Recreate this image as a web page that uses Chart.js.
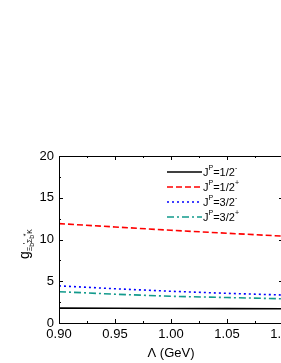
<!DOCTYPE html>
<html>
<head>
<meta charset="utf-8">
<script src="https://cdn.jsdelivr.net/npm/chart.js@4"></script>
<style>
  html, body { margin: 0; padding: 0; background: #fff; overflow: hidden; }
  #chart { display: block; }
</style>
</head>
<body>
<canvas id="chart" width="300" height="363"></canvas>
<script>
// values
const lambdaValues = [0.90, 0.95, 1.00, 1.05, 1.10];
const gHalfMinus  = [1.78, 1.76, 1.74, 1.72, 1.70];
const gHalfPlus   = [11.9, 11.5, 11.1, 10.75, 10.4];
const gThreeMinus = [4.45, 4.1, 3.8, 3.55, 3.35];
const gThreePlus  = [3.75, 3.45, 3.2, 3.05, 2.9];
const xTicks = [0.90, 0.95, 1.00, 1.05, 1.10];
const yTicks = [0, 5, 10, 15, 20];
const seriesLabels = [['1/2', '-'], ['1/2', '+'], ['3/2', '-'], ['3/2', '+']];

const FONT = '"Liberation Sans", Arial, sans-serif';

function pts(ys) {
    return lambdaValues.map((x, i) => ({ x: x, y: ys[i] }));
}

// frame, inner ticks, legend and axis titles
const framePlugin = {
    id: 'frame',
    afterDraw(chart) {
        const ctx = chart.ctx;
        const a = chart.chartArea;
        const xs = chart.scales.x, ys = chart.scales.y;
        ctx.save();
        ctx.strokeStyle = '#000';
        ctx.lineWidth = 1;
        ctx.strokeRect(a.left + 0.5, a.top + 0.5, a.right - a.left, a.bottom - a.top);

        ctx.beginPath();
        for (let v = 0.9; v <= 1.1001; v += 0.025) {
            const px = Math.round(xs.getPixelForValue(v)) + 0.5;
            const major = Math.abs(v * 20 - Math.round(v * 20)) < 1e-6;
            const len = major ? 4 : 2;
            ctx.moveTo(px, a.bottom); ctx.lineTo(px, a.bottom - len);
            ctx.moveTo(px, a.top); ctx.lineTo(px, a.top + len);
        }
        for (let v = 0; v <= 20.001; v += 2.5) {
            const py = Math.round(ys.getPixelForValue(v)) + 0.5;
            const len = (v % 5 === 0) ? 4 : 2;
            ctx.moveTo(a.left, py); ctx.lineTo(a.left + len, py);
            ctx.moveTo(a.right, py); ctx.lineTo(a.right - len, py);
        }
        ctx.stroke();

        // legend
        const lx = a.left + 108, lx2 = a.left + 143;
        chart.data.datasets.forEach((ds, i) => {
            const y = a.top + 16 + i * 15;
            ctx.strokeStyle = ds.borderColor;
            ctx.lineWidth = 1.6;
            ctx.setLineDash(ds.borderDash || []);
            ctx.beginPath();
            ctx.moveTo(lx, y); ctx.lineTo(lx2, y);
            ctx.stroke();
            ctx.setLineDash([]);
            ctx.fillStyle = '#000';
            ctx.textBaseline = 'alphabetic';
            ctx.textAlign = 'left';
            let tx = lx2 + 1;
            ctx.font = '11px ' + FONT;
            ctx.fillText('J', tx, y + 4); tx += ctx.measureText('J').width;
            ctx.font = '7px ' + FONT;
            ctx.fillText('P', tx, y - 2); tx += ctx.measureText('P').width;
            ctx.font = '11px ' + FONT;
            const s = '=' + seriesLabels[i][0];
            ctx.fillText(s, tx, y + 4); tx += ctx.measureText(s).width;
            ctx.font = '7px ' + FONT;
            ctx.fillText(seriesLabels[i][1], tx, y - 2);
        });

        // x title
        ctx.fillStyle = '#000';
        ctx.font = '13px ' + FONT;
        ctx.textAlign = 'center';
        ctx.textBaseline = 'middle';
        ctx.fillText('\u039B (GeV)', (a.left + 283) / 2, 353);

        // y title, rotated
        ctx.translate(29, 259);
        ctx.rotate(-Math.PI / 2);
        ctx.textAlign = 'left';
        ctx.textBaseline = 'alphabetic';
        let tx = 0;
        ctx.font = '14px ' + FONT;
        ctx.fillText('g', tx, 0); tx += ctx.measureText('g').width;
        ctx.font = '7px ' + FONT;
        const parts = [['\u039E', 0], ['b', 2], ['\u2032', -4], ['\u03A3', 0], ['b', 2], ['*', -4], ['K', 0]];
        parts.forEach(p => {
            ctx.fillText(p[0], tx, 3 + p[1]);
            tx += ctx.measureText(p[0]).width * (p[1] === 2 ? 0.6 : 1);
        });
        ctx.restore();
    }
};

new Chart(document.getElementById('chart'), {
    type: 'line',
    data: {
        datasets: [
            { data: pts(gHalfMinus), borderColor: '#000000', borderWidth: 1.6 },
            { data: pts(gHalfPlus), borderColor: '#ff0000', borderWidth: 1.6, borderDash: [6, 3] },
            { data: pts(gThreeMinus), borderColor: '#0000ff', borderWidth: 1.6, borderDash: [2, 3] },
            { data: pts(gThreePlus), borderColor: '#129a8c', borderWidth: 1.6, borderDash: [7, 3, 2, 3] }
        ]
    },
    options: {
        responsive: false,
        animation: false,
        devicePixelRatio: 1,
        layout: { padding: { top: 156, right: 17, left: 0, bottom: 0 } },
        elements: { point: { radius: 0 }, line: { tension: 0 } },
        plugins: { legend: { display: false }, tooltip: { enabled: false } },
        scales: {
            x: {
                type: 'linear',
                min: 0.9, max: 1.1,
                afterBuildTicks: s => { s.ticks = xTicks.map(v => ({ value: v })); },
                afterFit: s => { s.height = 40; },
                grid: { display: false, drawTicks: false },
                border: { display: false },
                ticks: {
                    padding: 4,
                    color: '#000',
                    font: { family: FONT, size: 13 },
                    callback: v => v.toFixed(2)
                }
            },
            y: {
                min: 0, max: 20,
                afterBuildTicks: s => { s.ticks = yTicks.map(v => ({ value: v })); },
                afterFit: s => { s.width = 59; },
                grid: { display: false, drawTicks: false },
                border: { display: false },
                ticks: {
                    padding: 5,
                    color: '#000',
                    font: { family: FONT, size: 13 }
                }
            }
        }
    },
    plugins: [framePlugin]
});
</script>
</body>
</html>
